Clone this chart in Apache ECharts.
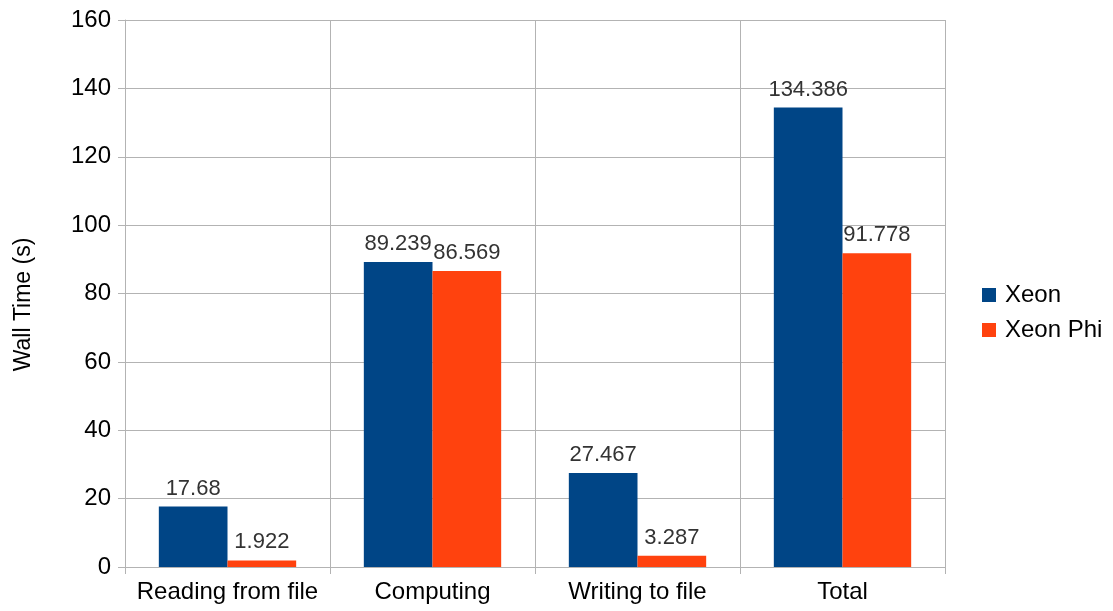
<!DOCTYPE html>
<html>
<head>
<meta charset="utf-8">
<title></title>
<script src="https://cdn.jsdelivr.net/npm/echarts@6/dist/echarts.min.js"></script>
<style type="text/css">
	body { margin: 0; background: #fff; }
	div#chart { width: 1113px; height: 611px; }
</style>
</head>
<body>
<div id="chart"></div>
<script type="text/javascript">
var categories = ['Reading from file', 'Computing', 'Writing to file', 'Total'];
var xeon = [17.68, 89.239, 27.467, 134.386];
var xeonPhi = [1.922, 86.569, 3.287, 91.778];
var seriesNames = ['Xeon', 'Xeon Phi'];

var font = 'Liberation Sans, Arial, sans-serif';
var gridColor = '#b3b3b3';

var myChart = echarts.init(document.getElementById('chart'));

function barLabel() {
    return {
        show: true,
        position: 'top',
        distance: 7,
        color: '#333333',
        fontFamily: font,
        fontSize: 22
    };
}

var option = {
    animation: false,
    textStyle: { fontFamily: font },
    grid: {
        left: 125,
        right: 168,
        top: 20,
        bottom: 44,
        containLabel: false
    },
    legend: {
        orient: 'vertical',
        left: 977,
        top: 278,
        itemWidth: 14,
        itemHeight: 14,
        itemGap: 11,
        icon: 'rect',
        textStyle: { color: '#000', fontSize: 24, fontFamily: font, padding: [0, 0, 0, 4] },
        data: seriesNames
    },
    xAxis: {
        type: 'category',
        data: categories,
        axisLine: { lineStyle: { color: gridColor } },
        axisTick: { show: true, interval: 0, length: 7, lineStyle: { color: gridColor } },
        splitLine: { show: true, interval: 0, lineStyle: { color: gridColor } },
        axisLabel: { interval: 0, color: '#000', fontSize: 24, fontFamily: font, margin: 13 }
    },
    yAxis: {
        type: 'value',
        min: 0,
        max: 160,
        interval: 20,
        name: 'Wall Time (s)',
        nameLocation: 'middle',
        nameGap: 90,
        nameTextStyle: { color: '#000', fontSize: 23, fontFamily: font, padding: [0, 22, 0, 0] },
        axisLine: { show: true, lineStyle: { color: gridColor } },
        axisTick: { show: true, length: 7, lineStyle: { color: gridColor } },
        splitLine: { show: true, lineStyle: { color: gridColor } },
        axisLabel: { color: '#000', fontSize: 24, fontFamily: font, margin: 14 }
    },
    series: [
        {
            name: seriesNames[0],
            type: 'bar',
            data: xeon,
            barGap: '0%',
            barCategoryGap: '33%',
            itemStyle: { color: '#004586' },
            label: barLabel()
        },
        {
            name: seriesNames[1],
            type: 'bar',
            data: xeonPhi,
            itemStyle: { color: '#ff420e' },
            label: barLabel()
        }
    ]
};

myChart.setOption(option);
</script>
</body>
</html>
